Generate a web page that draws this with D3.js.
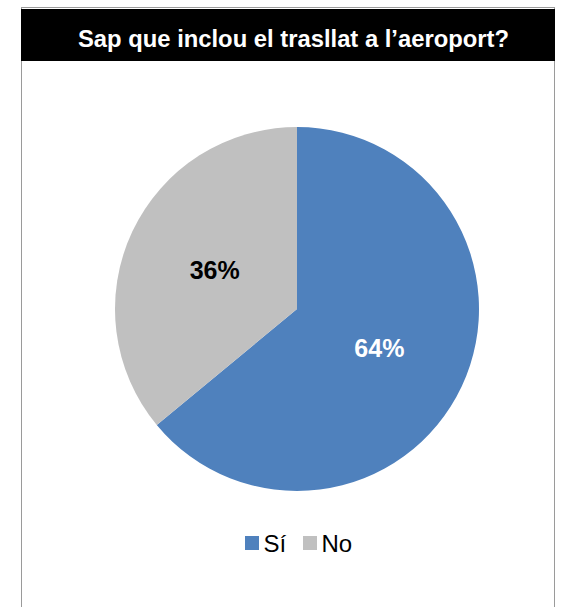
<!DOCTYPE html>
<html><head><meta charset="utf-8">
<script src="https://cdn.jsdelivr.net/npm/d3@7"></script>
<style>body{margin:0;background:#fff;}svg{display:block;font-family:"Liberation Sans",Arial,sans-serif;}</style>
</head><body>
<script>
const title = "Sap que inclou el trasllat a l’aeroport?";
const categories = ["Sí", "No"];
const values = [64, 36];
const colors = ["#4F81BD", "#C0C0C0"];
const labelColors = ["#FFFFFF", "#000000"];

const W = 569, H = 607;
const svg = d3.select("body").append("svg").attr("width", W).attr("height", H);

// frame
svg.append("rect").attr("x", 21.5).attr("y", 7.5).attr("width", 533).attr("height", 620)
  .attr("fill", "#fff").attr("stroke", "#9a9a9a").attr("stroke-width", 1);
// title bar
svg.append("rect").attr("x", 21).attr("y", 9).attr("width", 534).attr("height", 52).attr("fill", "#000");
svg.append("text").attr("x", 293.5).attr("y", 47).attr("text-anchor", "middle")
  .attr("fill", "#fff").attr("font-weight", "bold").attr("font-size", 23.8).text(title);

const cx = 297, cy = 309, r = 182;
const pie = d3.pie().sort(null).value(d => d)(values);
const arc = d3.arc().innerRadius(0).outerRadius(r);
const g = svg.append("g").attr("transform", `translate(${cx},${cy})`);
g.selectAll("path").data(pie).join("path").attr("d", arc).attr("fill", (d, i) => colors[i]);

const labelArc = d3.arc().innerRadius(r * 0.5).outerRadius(r * 0.5);
g.selectAll("text").data(pie).join("text")
  .attr("transform", d => `translate(${labelArc.centroid(d)})`)
  .attr("text-anchor", "middle").attr("dy", "0.36em")
  .attr("font-weight", "bold").attr("font-size", 25)
  .attr("fill", (d, i) => labelColors[i])
  .text(d => d.data + "%");

// legend
const legendX = [245, 303];
const lg = svg.append("g");
categories.forEach((c, i) => {
  lg.append("rect").attr("x", legendX[i]).attr("y", 536).attr("width", 14).attr("height", 14).attr("fill", colors[i]);
  lg.append("text").attr("x", legendX[i] + 18.5).attr("y", 552).attr("font-size", 24).attr("fill", "#000").text(c);
});
</script>
</body></html>
